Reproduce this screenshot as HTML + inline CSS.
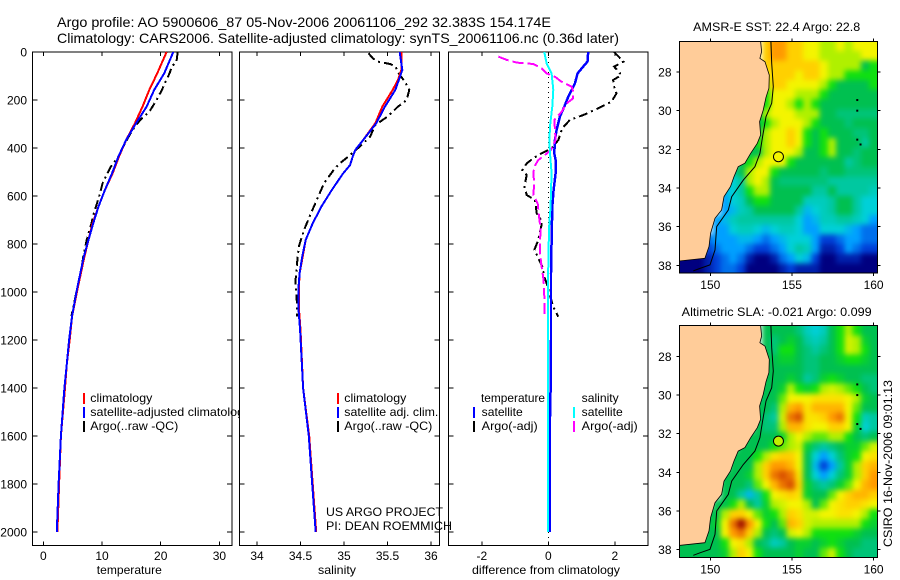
<!DOCTYPE html>
<html lang="en">
<head>
<meta charset="utf-8">
<title>Argo profile 5900606_87</title>
<style>
html,body{margin:0;padding:0;background:#fff;}
svg{display:block;font-family:"Liberation Sans",sans-serif;font-size:12px;fill:#000;}
text{fill:#000;stroke:none;}
.t14{font-size:14px;}
</style>
</head>
<body>
<svg id="chart" width="900" height="580" viewBox="0 0 900 580" xmlns="http://www.w3.org/2000/svg">
<defs>
<clipPath id="clip-legend-1"><rect x="32" y="52" width="207" height="493"/></clipPath>
<clipPath id="clip-map-1"><rect x="679.3" y="41.3" width="198" height="231.7"/></clipPath>
<clipPath id="clip-map-2"><rect x="679.3" y="325.7" width="198" height="231.7"/></clipPath>
<filter id="cell-soften" filterUnits="userSpaceOnUse" x="640" y="0" width="260" height="580" color-interpolation-filters="sRGB"><feGaussianBlur stdDeviation="2.6"/></filter>
</defs>
<rect x="0" y="0" width="900" height="580" fill="#fff"/>
<text class="t14" x="57" y="27" textLength="494" lengthAdjust="spacingAndGlyphs">Argo profile: AO 5900606_87 05-Nov-2006 20061106_292 32.383S 154.174E</text>
<text class="t14" x="57" y="43" textLength="562" lengthAdjust="spacingAndGlyphs">Climatology: CARS2006. Satellite-adjusted climatology: synTS_20061106.nc (0.36d later)</text>

<g id="panel-t"></g>
<g id="panel-s"></g>
<g id="panel-d"></g>

<g clip-path="url(#clip-legend-1)">
<rect x="83" y="393" width="2" height="11" fill="#f00"/>
<rect x="83" y="407" width="2" height="11" fill="#00f"/>
<rect x="83" y="421" width="2" height="11" fill="#000"/>
<text x="90.3" y="402" textLength="62" lengthAdjust="spacingAndGlyphs">climatology</text>
<text x="90.3" y="416" textLength="160" lengthAdjust="spacingAndGlyphs">satellite-adjusted climatology</text>
<text x="90.3" y="430" textLength="88" lengthAdjust="spacingAndGlyphs">Argo(..raw -QC)</text>
</g>
<g>
<rect x="337" y="393" width="2" height="11" fill="#f00"/>
<rect x="337" y="407" width="2" height="11" fill="#00f"/>
<rect x="337" y="421" width="2" height="11" fill="#000"/>
<text x="344.3" y="402" textLength="62" lengthAdjust="spacingAndGlyphs">climatology</text>
<text x="344.3" y="416" textLength="94" lengthAdjust="spacingAndGlyphs">satellite adj. clim.</text>
<text x="344.3" y="430" textLength="88" lengthAdjust="spacingAndGlyphs">Argo(..raw -QC)</text>
</g>
<text x="326" y="516" textLength="117" lengthAdjust="spacingAndGlyphs">US ARGO PROJECT</text>
<text x="326" y="530" textLength="126" lengthAdjust="spacingAndGlyphs">PI: DEAN ROEMMICH</text>
<g>
<text x="481" y="402" textLength="64" lengthAdjust="spacingAndGlyphs">temperature</text>
<rect x="473" y="407" width="2" height="11" fill="#00f"/>
<rect x="473" y="421" width="2" height="11" fill="#000"/>
<text x="481.7" y="416" textLength="41" lengthAdjust="spacingAndGlyphs">satellite</text>
<text x="481.7" y="430" textLength="56" lengthAdjust="spacingAndGlyphs">Argo(-adj)</text>
<text x="581.7" y="402" textLength="37" lengthAdjust="spacingAndGlyphs">salinity</text>
<rect x="573" y="407" width="2" height="11" fill="#0ff"/>
<rect x="573" y="421" width="2" height="11" fill="#f0f"/>
<text x="581.7" y="416" textLength="41" lengthAdjust="spacingAndGlyphs">satellite</text>
<text x="581.7" y="430" textLength="56" lengthAdjust="spacingAndGlyphs">Argo(-adj)</text>
</g>

<g id="map-sst"></g>
<g id="map-sla"></g>
<text x="776.7" y="31" text-anchor="middle" textLength="167" lengthAdjust="spacingAndGlyphs">AMSR-E SST: 22.4 Argo: 22.8</text>
<text x="776.7" y="316" text-anchor="middle" textLength="190" lengthAdjust="spacingAndGlyphs">Altimetric SLA: -0.021 Argo: 0.099</text>
<text transform="translate(892,547) rotate(-90)" textLength="167" lengthAdjust="spacingAndGlyphs">CSIRO 16-Nov-2006 09:01:13</text>
</svg>
<script>
// ---------- profile data ----------
const climDepth = [0,89,158,228,297,367,436,506,575,644,714,783,853,922,992,1100,1200,1300,1400,1600,1800,2000];
const tempClim = [21.0,19.4,18.06,16.9,15.6,14.1,12.9,11.8,10.5,9.4,8.4,7.7,7.0,6.4,5.8,4.9,4.5,4.0,3.7,3.0,2.7,2.4];
const tempSat = [22.15,20.6,18.9,17.6,15.8,14.1,12.8,11.7,10.5,9.4,8.5,7.7,6.9,6.3,5.7,4.9,4.4,4.0,3.6,3.0,2.6,2.3];
const argoTempDepth = [0,40,61,89,131,158,200,249,283,325,367,436,478,547,603,672,714,783,853,922,992,1100];
const argoTemp = [22.9,22.7,21.9,21.5,20.7,20.2,19.3,18.06,16.5,15.2,14.2,12.8,11.5,10.1,9.5,8.6,8.2,7.4,6.8,6.4,5.7,4.8];

const salDepth = [0,75,117,158,228,297,367,408,436,471,506,575,644,714,783,853,922,992,1061,1158,1400,1600,1800,2000];
const salClim = [35.66,35.66,35.62,35.56,35.44,35.36,35.22,35.13,35.10,35.07,34.99,34.86,34.74,34.64,34.56,34.525,34.49,34.48,34.48,34.50,34.53,34.60,34.64,34.68];
const salSat = [35.64,35.67,35.63,35.59,35.47,35.37,35.22,35.13,35.10,35.07,34.99,34.86,34.74,34.64,34.56,34.52,34.49,34.475,34.475,34.495,34.53,34.595,34.635,34.675];
const argoSalDepth = [5,26,40,50,61,89,124,158,200,228,269,304,353,394,436,464,492,547,631,672,742,811,894,964,1047,1103];
const argoSal = [35.28,35.33,35.39,35.53,35.59,35.63,35.70,35.75,35.72,35.62,35.50,35.36,35.30,35.18,35.05,34.95,34.88,34.77,34.67,34.62,34.54,34.48,34.456,34.44,34.46,34.46];

const diffTempSatDepth = [0,40,61,89,131,186,228,269,325,367,422,450,506,575,644,783,922,1200,1400,1600,2000];
const diffTempSat = [1.20,1.18,1.05,0.88,0.80,0.60,0.48,0.35,0.25,0.20,0.18,0.22,0.22,0.16,0.12,0.10,0.08,0.08,0.07,0.04,0.04];
const diffSalSatDepth = [0,47,89,158,228,297,367,422,506,575,644,714,853,1200,2000];
const diffSalSat = [-0.12,-0.05,0.10,0.15,0.12,0.06,0.03,0.05,0.10,0.08,0.07,0.03,0,-0.01,-0.01];
const diffTempArgoDepth = [0,40,61,96,117,144,172,207,235,263,283,318,367,401,422,443,464,492,513,561,596,617,672,707,749,790,825,853,894,936,964,1019,1061,1103];
const diffTempArgo = [1.98,2.26,1.98,2.2,1.95,1.98,2.05,1.9,1.5,1.05,0.65,0.42,0.30,0.10,-0.2,-0.45,-0.65,-0.78,-0.65,-0.72,-0.65,-0.4,-0.35,-0.18,-0.25,-0.32,-0.42,-0.32,-0.18,-0.12,-0.05,0.06,0.15,0.30];
const diffSalArgoDepth = [19,33,44,50,68,89,103,124,144,165,193,214,249,283,318,367,408,429,450,478,506,547,596,631,686,742,783,839,894,950,1019,1103];
const diffSalArgo = [-1.5,-1.25,-0.95,-0.45,-0.2,-0.05,0.2,0.4,0.7,0.75,0.75,0.55,0.4,0.18,0.2,0.22,0.08,-0.1,-0.3,-0.42,-0.45,-0.42,-0.45,-0.32,-0.28,-0.23,-0.25,-0.25,-0.2,-0.14,-0.12,-0.12];

const depthTicks = [0,200,400,600,800,1000,1200,1400,1600,1800,2000];
const tempTicks = [0,10,20,30];
const salTicks = [34,34.5,35,35.5,36];
const salTickLabels = ["34","34.5","35","35.5","36"];
const diffTicks = [-2,0,2];
const lonTicks = [150,155,160];
const latTicks = [28,30,32,34,36,38];

// ---------- map data (colour level per 0.5 degree cell) ----------
const N = null;
const sstGrid = [
[N,N,N,N,N,N,N,N,N,N,9,10,10,9,9,8,8,7,7,8,7,8,8,8],
[N,N,N,N,N,N,N,N,N,N,9,10,10,9,9,8,8,7,7,7,7,7,8,8],
[N,N,N,N,N,N,N,N,N,N,9,9,9,9,9,9,9,8,7,7,7,7,5,6],
[N,N,N,N,N,N,N,N,N,N,8,9,9,9,8,9,9,8,7,7,6,6,6,6],
[N,N,N,N,N,N,N,N,N,N,7,9,9,8,8,8,8,7,6,5,5,5,5,6],
[N,N,N,N,N,N,N,N,N,5,6,8,8,8,7,7,7,6,5,5,5,5,5,5],
[N,N,N,N,N,N,N,N,N,5,6,8,8,7,6,7,6,5,5,5,5,5,5,5],
[N,N,N,N,N,N,N,N,N,5,7,8,8,8,7,7,7,5,5,4.5,4.5,4.5,4.5,4.5],
[N,N,N,N,N,N,N,N,N,5,6,7,8,8,8,7,6,5,5,5,4.5,5,5,5],
[N,N,N,N,N,N,N,N,N,5,7,8,8,9,8,6,5,6,5,5,5,4.5,4.5,5],
[N,N,N,N,N,N,N,N,5,6,7,8,8,9,8,6,5,6,7,5,5,5,4,5],
[N,N,N,N,N,N,N,N,5,5,7,8,8,8,7,5,5,6,7,5,5,4.5,5,5],
[N,N,N,N,N,N,N,5,6,7,8,8,8,6,5,5,5,5,5,5,4,4.5,5,5],
[N,N,N,N,N,N,4,5,7,8,8,6,5,5,5,5,5,4.5,5,5,4.5,4.5,4.5,4.5],
[N,N,N,N,N,3,3,4,7,8,7,5,4.5,4.5,4.5,4.5,4.5,4.5,4,4,4,4,4,4],
[N,N,N,N,N,2.5,3,4,6,7,7,5,5,5,5,5,4,4,5,4,4,4,4,3.5],
[N,N,N,N,N,2,3,3.5,5,6,6,5,5,5,5,3.5,3.5,3.5,4,5,5,4,3,3],
[N,N,N,N,N,2,2.5,3.5,4,5,5,5,5,5,4,2.5,3,3.5,4,5,5,4,3,3],
[N,N,N,N,2,2.5,3.5,4,4,4,4,4,4,4,3,2,2.5,3.5,3.5,4,4,3.5,3,2],
[N,N,N,N,2,2,3,3.5,3.5,3,2.5,3,3.5,3.5,3,2,2,3,3,3,2.5,2,1.5,1.5],
[N,N,N,1.5,2,2,2,2.5,2.5,2,1.5,2,2.5,3,3,3,2,1,1,1.5,2,2,1.5,1.5],
[N,N,N,1,1.5,2,2,2,1.5,1,1,1.5,2,3,4,3.5,2,0.5,0.5,1,2,1.5,1,1],
[0,0,0,0.5,1,1.5,2,1.5,0.5,0,0,0.5,1.5,2,3,2.5,1,0,0,0.5,0.5,0.5,0,0],
[0,0,0,0.5,1,1.5,1.5,1,0,0,0,0,0.5,1,0.5,0.5,0.5,0,0,0,0,0,0,0]
];
const slaGrid = [
[N,N,N,N,N,N,N,N,N,N,5,5,5,5,4.5,3.5,3,3.5,5,6,7,6,5,5],
[N,N,N,N,N,N,N,N,N,N,5,4.5,5,5.5,5,4,3.5,4,5,6,7.5,7,5.5,5],
[N,N,N,N,N,N,N,N,N,N,5,4.5,6,6,5,4.5,4,4.5,5,6,7.5,7,6,5],
[N,N,N,N,N,N,N,N,N,N,5,5,5.5,5.5,5,4.5,4.5,5,5,5.5,6,6,5.5,5],
[N,N,N,N,N,N,N,N,N,N,5,5,5,5,5,4.5,4.5,5,5,5,5,5,5,5],
[N,N,N,N,N,N,N,N,N,5,5,5,5,5.5,5,4,4.5,5.5,6,5.5,5,5,4.5,4.5],
[N,N,N,N,N,N,N,N,N,5,5,5,5.5,7,6,5.5,6,7,7.5,7,6.5,6,5,4.5],
[N,N,N,N,N,N,N,N,N,4.5,5,5,6.5,8,8,8,8.5,8.5,8.5,8.5,8,7,5.5,5],
[N,N,N,N,N,N,N,N,N,5,5,4.5,7,9.5,10,8.5,9.5,9.5,9.5,9.5,8,6.5,5,5],
[N,N,N,N,N,N,N,N,N,5,4.5,4,7.5,10.5,11,8.5,8.5,9,10,10.5,8,6,3.5,4],
[N,N,N,N,N,N,N,N,N,5,4.5,4.5,7,9.5,9.5,8.5,8,8,9,9,8,5.5,3,4],
[N,N,N,N,N,N,N,N,5,5,5,5,5.5,7,8,7,6.5,6.5,7,7,6,5,4.5,5],
[N,N,N,N,N,N,N,5,5,5,5,6,6.5,7,7.5,5.5,4.5,4,4.5,5,5.5,5.5,6.5,7.5],
[N,N,N,N,N,N,5,5,5,6,7,8.5,9,9,8,5,3,2,3,4.5,5.5,6,8,8.5],
[N,N,N,N,N,N,5,5,5,7,9,10,10,9.5,8,5,2.5,1,2,4,5.5,7,9,9.5],
[N,N,N,N,N,5,5,5,5.5,7,9,10.5,11,10.5,8.5,5,3,2,3,4.5,5.5,7,9,10],
[N,N,N,N,N,5,5,5,4.5,6.5,8,9.5,10.5,11,9,5.5,4.5,4,4.5,5.5,6.5,8,9.5,10],
[N,N,N,N,N,5,5,4,2.5,4,6,8,8.5,9,8.5,5.5,5,5,6.5,8,9,9.5,9.5,9],
[N,N,N,N,5,5,6,7,5,4,5.5,7,7.5,8,8,7,5,6.5,8,8.5,9,9,8.5,8],
[N,N,N,5,5,7,9,9,8,6.5,5.5,6,7,9,8.5,7.5,7.5,8,8,8.5,8.5,8,7,6],
[N,N,N,5,5.5,8,10.5,12,10,8,6,5,6.5,9.5,9,7.5,7,7,7,7,7,7,6,5.5],
[N,N,N,5,5,8,10,10.5,9,7,5,4.5,5,7.5,8,7,6,6,6,6,6,5.5,5,5],
[5,5,5,5,5,6,8,8.5,7,5,4.5,3.5,4,5,5.5,5.5,5,5.5,6,5.5,5,5,4.5,4.5],
[5,5,5,5,5,5.5,7,9,8,6,5,5,5,5,5.5,5,5,6.5,7.5,6,5,4.5,4.5,4.5]
];
const colourLevels = ["#000080","#0040d8","#00a0ff","#00d0d8","#00c8a0","#00c050","#10e010","#b0f000","#f4f400","#ffd000","#ff9a00","#d85000","#a01000"];
const coastLon = [153.08,153.14,153.04,153.35,153.61,153.59,153.41,153.24,153.02,153.08,152.88,152.47,152.12,151.71,151.45,151.24,150.84,150.69,150.29,150.02,149.92,149.67,148.1,148.1];
const coastLat = [26.4,26.95,27.29,27.47,28.16,28.84,29.31,29.97,30.57,31.26,31.69,32.21,32.72,32.90,33.41,33.93,34.45,35.14,35.57,36.34,37.03,37.64,37.78,26.4];
const isoLon = [153.71,153.76,153.86,153.76,153.41,153.20,153.04,152.73,152.02,151.31,151.10,150.39,150.29,149.98,149.37,148.96];
const isoLat = [26.41,27.55,28.76,29.62,30.31,31.34,32.21,32.90,33.59,34.45,35.14,36.0,37.21,37.98,38.16,38.29];
const islandLon = [159.0,159.0,159.0,159.2];
const islandLat = [29.45,30.0,31.5,31.75];
const argoLon = 154.174;
const argoLat = 32.383;

// ---------- helpers ----------
const NS = "http://www.w3.org/2000/svg";
function mk(parent, tag, attrs, txt){
  const e = document.createElementNS(NS, tag);
  for (const k in attrs) e.setAttribute(k, attrs[k]);
  if (txt !== undefined) e.textContent = txt;
  parent.appendChild(e);
  return e;
}
const yDepth = d => 52 + d * 0.24;
const PANEL_TOP = 52, PANEL_BOTTOM = 545.3;
const xTemp = v => 43.3 + v * 5.87;
const xSal = v => 257 + (v - 34) * 87;
const xDiff = v => 548.3 + v * 33.25;

function drawProfile(g, xs, ds, xf, colour, width, dash, name){
  const pts = xs.map((v, i) => xf(v).toFixed(1) + "," + yDepth(ds[i]).toFixed(1)).join(" ");
  const attrs = {points: pts, fill: "none", stroke: colour, "stroke-width": width, "shape-rendering": "crispEdges"};
  if (dash) attrs["stroke-dasharray"] = dash;
  const line = mk(g, "polyline", attrs);
  
  
}
function drawFrame(g, x0, x1, xf, ticks, labels, yLabels, xLabel, xLabelX, xLabelLen){
  const frame = mk(g, "rect", {x: x0, y: PANEL_TOP, width: x1 - x0, height: PANEL_BOTTOM - PANEL_TOP, fill: "none", stroke: "#000", "stroke-width": 1, "shape-rendering": "crispEdges"});
  
  
  depthTicks.forEach(d => {
    const y = yDepth(d);
    const t = mk(g, "path", {d: `M${x0} ${y}h5M${x1} ${y}h-5`, stroke: "#000", "stroke-width": 1, "shape-rendering": "crispEdges"});
    
    
    if (yLabels) {
      const l = mk(g, "text", {x: 27, y: y + 4.5, "text-anchor": "end"}, String(d));
      
      
    }
  });
  ticks.forEach((v, i) => {
    const x = xf(v);
    const t = mk(g, "path", {d: `M${x} ${PANEL_TOP}v4M${x} ${PANEL_BOTTOM}v-4`, stroke: "#000", "stroke-width": 1, "shape-rendering": "crispEdges"});
    
    
    const l = mk(g, "text", {x: x, y: 560, "text-anchor": "middle"}, labels[i]);
    
    
  });
  const xt = mk(g, "text", {x: xLabelX, y: 574, "text-anchor": "middle", textLength: xLabelLen, lengthAdjust: "spacingAndGlyphs"}, xLabel);
  
  
}

// ---------- profile panels ----------
const DASH = "9 4 2 4";
const gT = document.getElementById("panel-t");
drawFrame(gT, 32.5, 232, xTemp, tempTicks, tempTicks.map(String), true, "temperature", 129.3, 65);
drawProfile(gT, argoTemp, argoTempDepth, xTemp, "#000", 2, DASH, "argo-temperature-line");
drawProfile(gT, tempClim, climDepth, xTemp, "#f00", 2, null, "climatology-temperature-line");
drawProfile(gT, tempSat, climDepth, xTemp, "#00f", 2, null, "satellite-temperature-line");

const gS = document.getElementById("panel-s");
drawFrame(gS, 239.5, 439.5, xSal, salTicks, salTickLabels, false, "salinity", 337, 38);
drawProfile(gS, argoSal, argoSalDepth, xSal, "#000", 2, DASH, "argo-salinity-line");
drawProfile(gS, salClim, salDepth, xSal, "#f00", 2, null, "climatology-salinity-line");
drawProfile(gS, salSat, salDepth, xSal, "#00f", 2, null, "satellite-salinity-line");

const gD = document.getElementById("panel-d");
drawFrame(gD, 448.5, 648, xDiff, diffTicks, diffTicks.map(v => v < 0 ? "-" + Math.abs(v) : String(v)), false, "difference from climatology", 546, 148);
const zeroLine = mk(gD, "line", {x1: xDiff(0), x2: xDiff(0), y1: PANEL_TOP, y2: PANEL_BOTTOM, stroke: "#000", "stroke-width": 1, "stroke-dasharray": "1 4", "shape-rendering": "crispEdges"});


drawProfile(gD, diffTempArgo, diffTempArgoDepth, xDiff, "#000", 2, DASH, "argo-temperature-difference-line");
drawProfile(gD, diffTempSat, diffTempSatDepth, xDiff, "#00f", 2.5, null, "satellite-temperature-difference-line");
drawProfile(gD, diffSalArgo, diffSalArgoDepth, xDiff, "#f0f", 2, "11 4", "argo-salinity-difference-line");
drawProfile(gD, diffSalSat, diffSalSatDepth, xDiff, "#0ff", 2, null, "satellite-salinity-difference-line");

// ---------- maps ----------
function hex(c){ return [1,3,5].map(i => parseInt(c.substr(i,2),16)); }
function levelColour(v){
  const lo = Math.floor(v), hi = Math.min(lo + 1, colourLevels.length - 1), f = v - lo;
  const a = hex(colourLevels[lo]), b = hex(colourLevels[hi]);
  return "rgb(" + a.map((c,i) => Math.round(c + (b[i]-c)*f)).join(",") + ")";
}
function drawMap(g, grid, top, clipId, prefix, markerFill){
  const LEFT = 679.3, W = 198, H = 231.7, BLEED = 12;
  const xLon = lon => 710.3 + (lon - 150) * 16.33;
  const yLat = lat => top + 30.7 + (lat - 28) * 19.33;
  const rows = grid.length, cols = grid[0].length;
  const cw = W / cols, ch = H / rows;
  const plot = mk(g, "g", {"clip-path": `url(#${clipId})`});
  
  
  const cells = mk(plot, "g", {filter: "url(#cell-soften)"});
  
  
  grid.forEach((row, r) => row.forEach((v, c) => {
    if (v === null) return;
    const x0 = LEFT + c*cw - (c === 0 ? BLEED : 0);
    const x1 = LEFT + (c+1)*cw + (c === cols-1 ? BLEED : 0.5);
    const y0 = top + r*ch - (r === 0 ? BLEED : 0);
    const y1 = top + (r+1)*ch + (r === rows-1 ? BLEED : 0.5);
    const cell = mk(cells, "rect", {x: x0.toFixed(2), y: y0.toFixed(2), width: (x1-x0).toFixed(2), height: (y1-y0).toFixed(2), fill: levelColour(v), "shape-rendering": "crispEdges"});
    
    
  }));
  const land = mk(plot, "polygon", {points: coastLon.map((lon,i) => xLon(lon).toFixed(1) + "," + yLat(coastLat[i]).toFixed(1)).join(" "), fill: "#ffcc99", stroke: "#000", "stroke-width": 0.8});
  
  
  const iso = mk(plot, "polyline", {points: isoLon.map((lon,i) => xLon(lon).toFixed(1) + "," + yLat(isoLat[i]).toFixed(1)).join(" "), fill: "none", stroke: "#000", "stroke-width": 1});
  
  
  islandLon.forEach((lon, i) => {
    const isl = mk(plot, "rect", {x: xLon(lon) - 1, y: yLat(islandLat[i]) - 1, width: 2, height: 2, fill: "#000"});
    
    
  });
  const marker = mk(plot, "circle", {cx: xLon(argoLon), cy: yLat(argoLat), r: 5, fill: markerFill, stroke: "#000", "stroke-width": 1});
  
  
  const frame = mk(g, "rect", {x: LEFT, y: top, width: W, height: H, fill: "none", stroke: "#000", "stroke-width": 1, "shape-rendering": "crispEdges"});
  
  
  lonTicks.forEach(lon => {
    const x = xLon(lon);
    const t = mk(g, "path", {d: `M${x} ${top}v-3M${x} ${top+H}v3`, stroke: "#000", "shape-rendering": "crispEdges"});
    
    
    const l = mk(g, "text", {x: x, y: top + H + 16, "text-anchor": "middle"}, String(lon));
    
    
  });
  latTicks.forEach(lat => {
    const y = yLat(lat);
    const t = mk(g, "path", {d: `M${LEFT} ${y}h-3M${LEFT+W} ${y}h3`, stroke: "#000", "shape-rendering": "crispEdges"});
    
    
    const l = mk(g, "text", {x: 671.5, y: y + 4.5, "text-anchor": "end"}, String(lat));
    
    
  });
}
drawMap(document.getElementById("map-sst"), sstGrid, 41.3, "clip-map-1", "sst", "none");
drawMap(document.getElementById("map-sla"), slaGrid, 325.7, "clip-map-2", "sla", "#c0f000");
</script>
</body>
</html>
